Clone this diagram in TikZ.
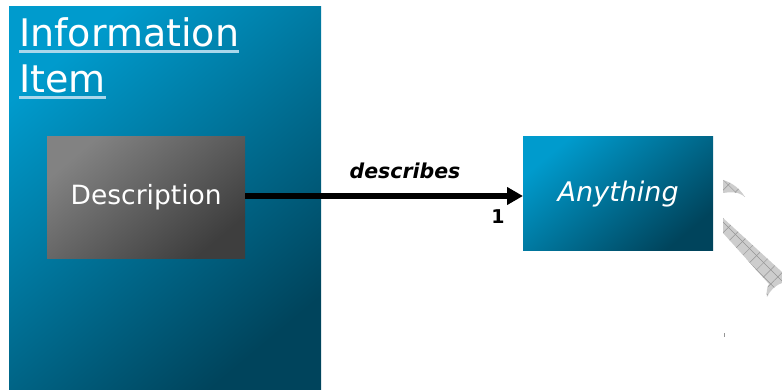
\documentclass[tikz,border=0pt]{standalone}
\usepackage{fontspec}
\setmainfont{DejaVu Sans}
\usetikzlibrary{arrows.meta,patterns.meta}

\definecolor{blueLight}{RGB}{0,155,205}
\definecolor{blueDark}{RGB}{0,68,92}
\definecolor{grayLight}{RGB}{130,130,130}
\definecolor{grayDark}{RGB}{62,62,62}
\definecolor{ulineC}{RGB}{170,215,235}
\definecolor{hatchFill}{RGB}{205,205,205}
\definecolor{hatchLine}{RGB}{150,150,150}

\begin{document}
\begin{tikzpicture}[x=1pt,y=-1pt,
  bluebox/.style={rectangle, inner sep=0pt, anchor=north west,
    top color=blueLight, bottom color=blueDark, shading angle=40},
  graybox/.style={rectangle, inner sep=0pt, anchor=north west,
    top color=grayLight, bottom color=grayDark, shading angle=40},
  boxtext/.style={text=white, font=\fontsize{26.5}{30}\selectfont},
  heading/.style={anchor=base west, inner sep=0pt, text=white,
    font=\fontsize{38}{46}\selectfont},
  headline/.style={draw=ulineC, line width=2.2pt},
  relation/.style={line width=5.5pt, -{Triangle[length=16pt,width=17pt]}},
  hatch/.style={fill=hatchFill},
  hatchA/.style={pattern={Lines[angle=45,distance=10pt,line width=0.5pt]}, pattern color=hatchLine},
  hatchB/.style={pattern={Lines[angle=-45,distance=10pt,line width=0.5pt]}, pattern color=hatchLine}
]
\useasboundingbox (0,0) rectangle (782,390);

% outer information item
\node[bluebox, minimum width=312pt, minimum height=384pt] (info) at (9,6) {};
\node[heading] (title1) at (19,47) {Information};
\node[heading] (title2) at (19,93) {Item};
\path[headline] ([yshift=-4.5pt]title1.base west) -- ([yshift=-4.5pt]title1.base east);
\path[headline] ([yshift=-4.5pt]title2.base west) -- ([yshift=-4.5pt]title2.base east);

% description part
\node[graybox, minimum width=198pt, minimum height=122pt] (desc) at (47,136) {};
\node[boxtext] (desclabel) at (desc.center) {Description};

% target
\node[bluebox, minimum width=190pt, minimum height=114pt] (any) at (523,136) {};
\node[boxtext, font=\fontsize{27}{30}\selectfont\itshape] (anylabel) at ([yshift=-1pt]any.center) {Anything};

% relation
\coordinate (src) at (desc.east |- 0,196);
\coordinate (dst) at (any.west |- 0,196);
\draw[relation] (src) -- (dst)
  node[pos=0.575, above=11pt, font=\fontsize{20.5}{24}\selectfont\bfseries\itshape] (rel) {describes}
  node[pos=0.91, below=8pt, font=\fontsize{19}{22}\selectfont\bfseries] (card) {1};

% cut-off hatched shape at the right edge
\def\hatchtop{(723,180) .. controls (733,183) and (740,189) .. (745,197)
  .. controls (738,191) and (730,192) .. (723,193) -- cycle}
\def\hatchlow{(723,218) -- (782,272) -- (782,283)
  .. controls (774,286) and (770,291) .. (767,297)
  .. controls (766,292) and (767,288) .. (769,284) -- (723,233) -- cycle}
\path[hatch] \hatchtop;
\path[hatchA] \hatchtop;
\path[hatchB] \hatchtop;
\path[hatch] \hatchlow;
\path[hatchA] \hatchlow;
\path[hatchB] \hatchlow;
\fill[hatchLine] (723.5,333) rectangle (725,337);
\end{tikzpicture}
\end{document}
